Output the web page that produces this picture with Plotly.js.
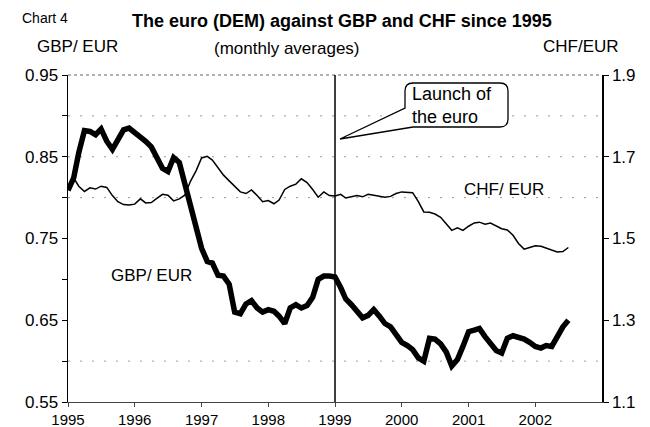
<!DOCTYPE html>
<html><head><meta charset="utf-8">
<script src="https://cdn.plot.ly/plotly-3.0.1.min.js"></script>
<style>html,body{margin:0;padding:0;background:#fff}#chart{width:650px;height:427px}</style>
</head><body><div id="chart"></div>
<script>
// ---- data (monthly averages, Jan 1995 - Jul 2002) ----
const startYear = 1995;
const gbpEur = [
  0.809, 0.824, 0.855, 0.882, 0.881, 0.877, 0.884, 0.869, 0.859, 0.872, 0.883, 0.885,
  0.880, 0.875, 0.869, 0.862, 0.849, 0.836, 0.832, 0.849, 0.843, 0.818, 0.793, 0.762,
  0.738, 0.722, 0.720, 0.705, 0.704, 0.694, 0.660, 0.658, 0.670, 0.674, 0.665, 0.660,
  0.663, 0.661, 0.655, 0.646, 0.665, 0.669, 0.665, 0.668, 0.678, 0.700, 0.704, 0.704,
  0.703, 0.690, 0.676, 0.669, 0.660, 0.653, 0.656, 0.663, 0.655, 0.646, 0.642, 0.633,
  0.623, 0.619, 0.614, 0.604, 0.600, 0.628, 0.627, 0.621, 0.611, 0.594, 0.602, 0.618,
  0.636, 0.638, 0.640, 0.630, 0.622, 0.613, 0.610, 0.628, 0.631, 0.629, 0.627, 0.623,
  0.618, 0.616, 0.619, 0.618, 0.630, 0.642, 0.650
];
const chfEur = [
  1.620, 1.648, 1.628, 1.615, 1.624, 1.621, 1.628, 1.625, 1.605, 1.590, 1.583, 1.582,
  1.584, 1.597, 1.587, 1.588, 1.598, 1.608, 1.606, 1.592, 1.597, 1.606, 1.640, 1.665,
  1.697, 1.701, 1.692, 1.672, 1.655, 1.641, 1.627, 1.614, 1.610, 1.619, 1.605, 1.590,
  1.593, 1.585, 1.594, 1.620, 1.628, 1.633, 1.646, 1.637, 1.620, 1.601, 1.614, 1.605,
  1.604, 1.608, 1.599, 1.603, 1.605, 1.602, 1.608, 1.606, 1.604, 1.601, 1.603, 1.610,
  1.614, 1.613, 1.612, 1.590, 1.565, 1.564, 1.560, 1.552, 1.535, 1.520, 1.526, 1.520,
  1.530, 1.538, 1.540, 1.535, 1.538, 1.530, 1.524, 1.521, 1.508, 1.488, 1.474, 1.478,
  1.482, 1.481, 1.477, 1.471, 1.467, 1.468, 1.478
];
const yearLabels = ['1995','1996','1997','1998','1999','2000','2001','2002'];
const gbpTicks = [0.55, 0.65, 0.75, 0.85, 0.95];
const gbpMinor = [0.60, 0.70, 0.80, 0.90];
const chfTicks = [1.1, 1.3, 1.5, 1.7, 1.9];
const gridGbp = [0.90, 0.85, 0.80, 0.60];
const euroLaunch = '1999-01-01';

const dates = gbpEur.map((_, i) => {
  const y = startYear + Math.floor(i / 12);
  const m = (i % 12) + 1;
  return y + '-' + String(m).padStart(2, '0') + '-01';
});
const yearTickVals = yearLabels.map(y => y + '-01-01');

// pixel -> paper helpers (plot area 68..602 x 75..402)
const L = 68, R = 602, T = 75, B = 402;
const px = x => (x - L) / (R - L);
const py = y => (B - y) / (B - T);

const FONT = 'Liberation Sans, Arial, sans-serif';

const traces = [
  {x: dates, y: gbpEur, type: 'scatter', mode: 'lines', yaxis: 'y',
   line: {color: '#000', width: 5.5}, name: 'GBP/ EUR'},
  {x: dates, y: chfEur, type: 'scatter', mode: 'lines', yaxis: 'y2',
   line: {color: '#000', width: 1.5}, name: 'CHF/ EUR'}
];

const shapes = gridGbp.map(v => ({
  type: 'line', xref: 'paper', yref: 'y', x0: 0, x1: 1, y0: v, y1: v,
  line: {color: '#999', width: 1, dash: '2px,10px'}, layer: 'below'
}));
shapes.push({type: 'line', xref: 'paper', yref: 'paper', x0: 0, x1: 1, y0: 1, y1: 1,
  line: {color: '#666', width: 1, dash: 'dot'}});
shapes.push({type: 'line', xref: 'x', yref: 'paper', x0: euroLaunch, x1: euroLaunch, y0: 0, y1: 1,
  line: {color: '#000', width: 1.5}});
// callout bubble
const P = (x, y) => px(x).toFixed(5) + ',' + py(y).toFixed(5);
shapes.push({type: 'path', xref: 'paper', yref: 'paper',
  path: 'M' + P(413,83) + ' L' + P(500,83) + ' Q' + P(508,83) + ' ' + P(508,91) +
        ' L' + P(508,119) + ' Q' + P(508,127) + ' ' + P(500,127) +
        ' L' + P(413,127) + ' L' + P(340,139) + ' L' + P(405,108) +
        ' L' + P(405,91) + ' Q' + P(405,83) + ' ' + P(413,83) + ' Z',
  line: {color: '#000', width: 1.3}, fillcolor: '#fff'});

const ann = (text, x, y, size, opts) => Object.assign({
  text: text, xref: 'paper', yref: 'paper', x: px(x), y: py(y),
  showarrow: false, font: {family: FONT, size: size, color: '#000'},
  xanchor: 'center', yanchor: 'middle'
}, opts || {});

const annotations = [
  ann('Chart 4', 20, 18, 14, {xanchor: 'left'}),
  ann('<b>The euro (DEM) against GBP and CHF since 1995</b>', 342, 21, 18),
  ann('GBP/ EUR', 77, 47, 17),
  ann('(monthly averages)', 287, 48, 17),
  ann('CHF/EUR', 581, 46, 17),
  ann('Launch of<br>the euro', 410, 105, 18, {xanchor: 'left', align: 'left'}),
  ann('CHF/ EUR', 504, 189, 17),
  ann('GBP/ EUR', 151, 275, 17)
];

const layout = {
  width: 650, height: 427,
  margin: {l: L, r: 650 - R, t: T, b: 427 - B},
  paper_bgcolor: '#fff', plot_bgcolor: '#fff',
  showlegend: false,
  font: {family: FONT, size: 17, color: '#000'},
  xaxis: {
    type: 'date', range: ['1995-01-01', '2003-01-01'],
    tickvals: yearTickVals, ticktext: yearLabels,
    ticks: 'outside', ticklen: 4, tickcolor: '#444',
    ticklabelstandoff: 0,
    showline: true, linecolor: '#444', linewidth: 1,
    showgrid: false, zeroline: false,
    tickfont: {family: FONT, size: 15, color: '#000'}
  },
  yaxis: {
    range: [0.55, 0.95], tickvals: gbpTicks, ticktext: gbpTicks.map(v => v.toFixed(2)),
    ticks: 'outside', ticklen: 5, tickcolor: '#000',
    minor: {tickvals: gbpMinor, ticks: 'outside', ticklen: 5, tickcolor: '#000', showgrid: false},
    showline: true, linecolor: '#000', linewidth: 1.5,
    showgrid: false, zeroline: false,
    tickfont: {family: FONT, size: 17, color: '#000'}
  },
  yaxis2: {
    overlaying: 'y', side: 'right', range: [1.1, 1.9],
    tickvals: chfTicks, ticktext: chfTicks.map(v => v.toFixed(1)),
    ticks: 'outside', ticklen: 5, tickcolor: '#000',
    showline: true, linecolor: '#000', linewidth: 1.5,
    showgrid: false, zeroline: false,
    tickfont: {family: FONT, size: 17, color: '#000'}
  },
  shapes: shapes,
  annotations: annotations
};

Plotly.newPlot('chart', traces, layout, {staticPlot: true, displayModeBar: false});
</script>
</body></html>
